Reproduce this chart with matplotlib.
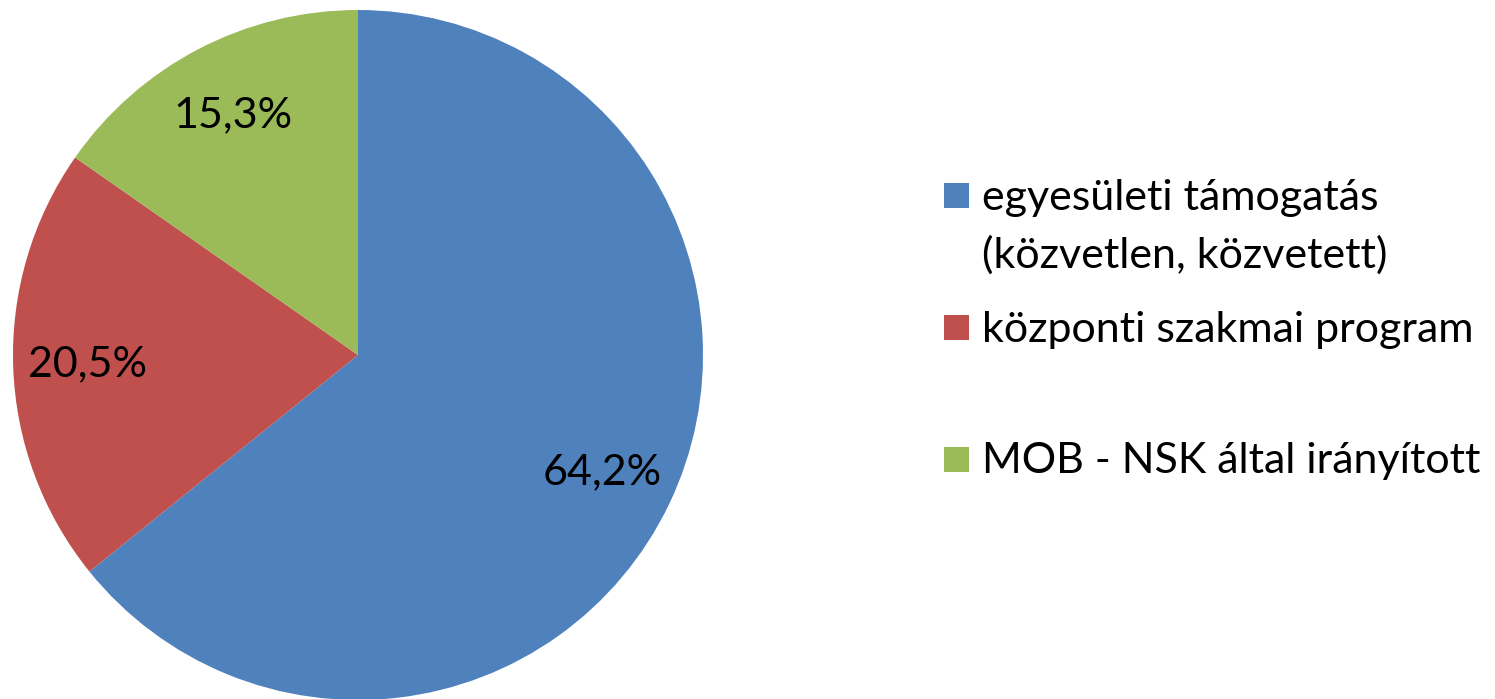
import matplotlib
matplotlib.use("Agg")
import matplotlib.pyplot as plt
from matplotlib.patches import Rectangle

categories = ["egyesületi támogatás\n(közvetlen, közvetett)",
              "központi szakmai program",
              "MOB - NSK által irányított"]
values = [64.2, 20.5, 15.3]
colors = ["#4F81BD", "#C0504D", "#9BBB59"]

plt.rcParams['font.family'] = ['Lato', 'DejaVu Sans']

W, H = 1495, 699
fig = plt.figure(figsize=(W / 100, H / 100), dpi=100)
fig.patch.set_facecolor("white")

cx, cy, r = 358, 355, 345
ax = fig.add_axes([(cx - r) / W, (H - cy - r) / H, 2 * r / W, 2 * r / H])
wedges, texts, autotexts = ax.pie(
    values, colors=colors, startangle=90, counterclock=False,
    autopct=lambda p: f"{p:.1f}%".replace('.', ','), pctdistance=0.785,
    wedgeprops=dict(linewidth=0), textprops=dict(fontsize=31, color="black"))
ax.set_xlim(-1, 1)
ax.set_ylim(-1, 1)
ax.set_aspect('equal')

# legend (manual layout)
sq = 25
box_x = 944
box_tops = [183, 315, 447]
text_baselines = [210, 342, 473]
line_step = 58
for col, top, base, lab in zip(colors, box_tops, text_baselines, categories):
    fig.patches.append(Rectangle((box_x / W, 1 - (top + sq) / H), sq / W, sq / H,
                                 transform=fig.transFigure, facecolor=col,
                                 edgecolor='none'))
    for i, line in enumerate(lab.split("\n")):
        fig.text(982 / W, 1 - (base + i * line_step) / H, line, fontsize=31,
                 va='baseline', ha='left')

fig.savefig("out.png", dpi=100, facecolor="white")
